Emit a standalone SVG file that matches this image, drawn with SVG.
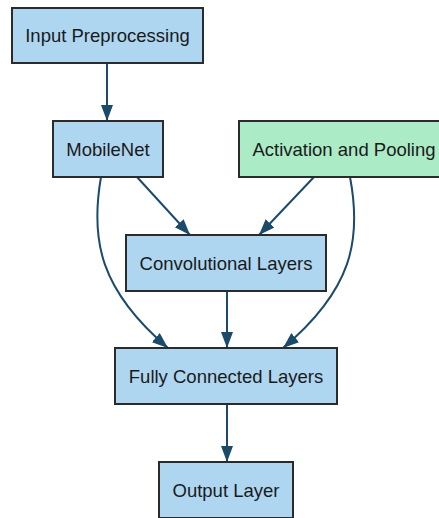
<svg xmlns="http://www.w3.org/2000/svg" width="439" height="518" viewBox="0 0 439 518">
<defs>
<style>
.node rect{stroke:#2b2b2b;stroke-width:2}
.blue{fill:#aed6f1}
.green{fill:#abebc6}
.node text{font-family:"Liberation Sans",Arial,sans-serif;font-size:18.5px;fill:#1a1a1a;text-anchor:middle;dominant-baseline:central}
.edge{fill:none;stroke:#1b4a6b;stroke-width:2}
</style>
<marker id="arr" markerUnits="userSpaceOnUse" markerWidth="17" markerHeight="13" refX="16" refY="6" orient="auto">
<path d="M0,0 L16,6 L0,12 z" fill="#1b4a6b"/>
</marker>
</defs>
<rect width="439" height="518" fill="#ffffff"/>
<g id="connectors">
<path class="edge" d="M107,63 L107,121" marker-end="url(#arr)"/>
<path class="edge" d="M137,177 L190,235" marker-end="url(#arr)"/>
<path class="edge" d="M314,177 L259,235" marker-end="url(#arr)"/>
<path class="edge" d="M227,291 L227,348" marker-end="url(#arr)"/>
<path class="edge" d="M101,177 C90,240 100,290 168,348" marker-end="url(#arr)"/>
<path class="edge" d="M350,177 C362,240 352,290 283,348" marker-end="url(#arr)"/>
<path class="edge" d="M227,404 L227,462" marker-end="url(#arr)"/>
</g>
<g id="input" class="node"><rect class="blue" x="12" y="8" width="191" height="55"/><text x="107.5" y="35.5">Input Preprocessing</text></g>
<g id="mobilenet" class="node"><rect class="blue" x="53" y="121" width="110" height="56"/><text x="108" y="149">MobileNet</text></g>
<g id="activation" class="node"><rect class="green" x="239" y="121" width="202" height="56"/><text x="344" y="149">Activation and Pooling</text></g>
<g id="conv" class="node"><rect class="blue" x="126" y="235" width="200" height="56"/><text x="226" y="263">Convolutional Layers</text></g>
<g id="fc" class="node"><rect class="blue" x="115" y="348" width="222" height="56"/><text x="226" y="376">Fully Connected Layers</text></g>
<g id="output" class="node"><rect class="blue" x="159" y="462" width="134" height="56"/><text x="226" y="490">Output Layer</text></g>
</svg>
